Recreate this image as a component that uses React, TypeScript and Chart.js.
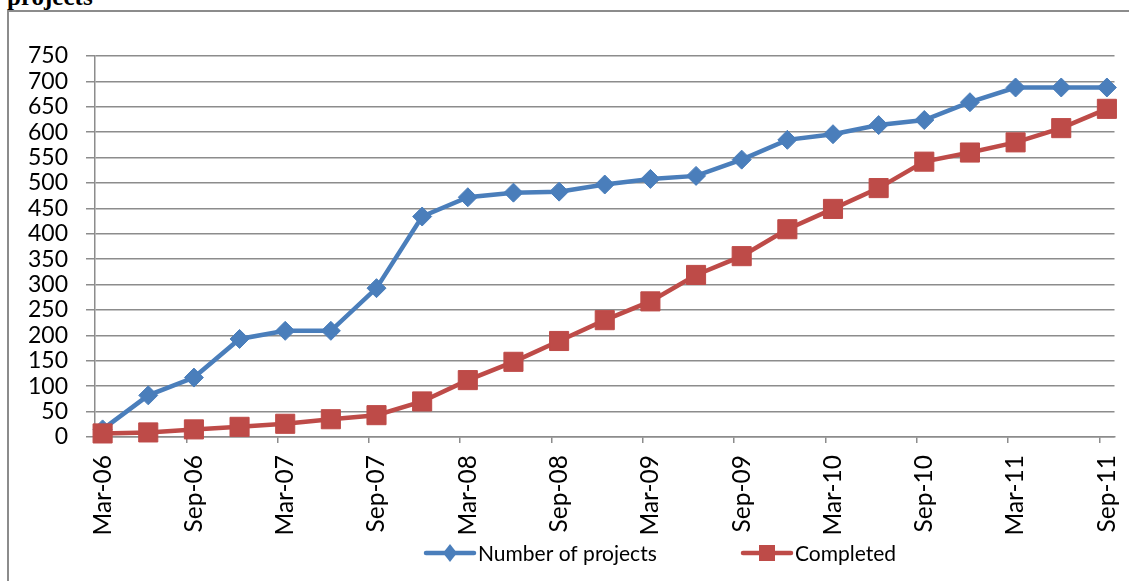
import React, { useEffect, useRef } from "react";
import { Chart, registerables } from "chart.js";

Chart.register(...registerables);

// Quarterly observations (Mar-06 .. Sep-11)
const quarters = [
  "Mar-06", "Jun-06", "Sep-06", "Dec-06",
  "Mar-07", "Jun-07", "Sep-07", "Dec-07",
  "Mar-08", "Jun-08", "Sep-08", "Dec-08",
  "Mar-09", "Jun-09", "Sep-09", "Dec-09",
  "Mar-10", "Jun-10", "Sep-10", "Dec-10",
  "Mar-11", "Jun-11", "Sep-11",
];

const numberOfProjects = [
  15, 82, 117, 193, 209, 209, 293, 434, 472, 481, 483, 497,
  508, 514, 546, 585, 596, 614, 624, 659, 688, 688, 688,
];

const completed = [
  7, 9, 15, 20, 26, 35, 43, 70, 112, 148, 189, 230,
  267, 319, 356, 409, 449, 490, 542, 560, 580, 608, 646,
];

const axisTickLabels = [
  "Mar-06", "Sep-06", "Mar-07", "Sep-07", "Mar-08", "Sep-08",
  "Mar-09", "Sep-09", "Mar-10", "Sep-10", "Mar-11", "Sep-11",
];

const seriesNames = ["Number of projects", "Completed"];

const Y_MIN = 0;
const Y_MAX = 750;
const Y_STEP = 50;

const BLUE = "#4A7EBB";
const RED = "#BE4B48";
const GRID = "#8C8C8C";
const FONT = "Lato";

const monthsPerQuarter = 3;
const totalMonths = (quarters.length - 1) * monthsPerQuarter + 1;

const toPoints = (vals: number[]) =>
  vals.map((v, i) => ({ x: i * monthsPerQuarter + 0.5, y: v }));

const legendPlugin = {
  id: "excelLegend",
  afterDraw(chart: any) {
    const ctx: CanvasRenderingContext2D = chart.ctx;
    const y = 553;
    const items = [
      { x: 426, color: BLUE, shape: "diamond", text: seriesNames[0] },
      { x: 743, color: RED, shape: "square", text: seriesNames[1] },
    ];
    ctx.save();
    for (const it of items) {
      ctx.strokeStyle = it.color;
      ctx.lineWidth = 4.5;
      ctx.lineCap = "round";
      ctx.beginPath();
      ctx.moveTo(it.x, y);
      ctx.lineTo(it.x + 48, y);
      ctx.stroke();
      const cx = it.x + 24;
      ctx.fillStyle = it.color;
      ctx.beginPath();
      if (it.shape === "diamond") {
        ctx.moveTo(cx, y - 9);
        ctx.lineTo(cx + 7, y);
        ctx.lineTo(cx, y + 9);
        ctx.lineTo(cx - 7, y);
        ctx.closePath();
      } else {
        ctx.rect(cx - 8, y - 8, 16, 16);
      }
      ctx.fill();
      ctx.fillStyle = "#000";
      ctx.font = `21px ${FONT}`;
      ctx.textBaseline = "middle";
      ctx.textAlign = "left";
      ctx.fillText(it.text, it.x + 52, y + 1);
    }
    ctx.restore();
  },
};

export default function App() {
  const canvasRef = useRef<HTMLCanvasElement | null>(null);

  useEffect(() => {
    if (!canvasRef.current) return;
    const chart = new Chart(canvasRef.current, {
      type: "line",
      data: {
        datasets: [
          {
            label: seriesNames[0],
            data: toPoints(numberOfProjects),
            borderColor: BLUE,
            backgroundColor: BLUE,
            borderWidth: 4.5,
            pointStyle: "rectRot",
            pointRadius: 9.5,
            pointBorderWidth: 1,
            pointBackgroundColor: BLUE,
            pointBorderColor: BLUE,
            tension: 0,
            clip: false as any,
            order: 1,
          },
          {
            label: seriesNames[1],
            data: toPoints(completed),
            borderColor: RED,
            backgroundColor: RED,
            borderWidth: 4.5,
            pointStyle: "rect",
            pointRadius: 13.5,
            pointBorderWidth: 1,
            pointBackgroundColor: RED,
            pointBorderColor: RED,
            tension: 0,
            clip: false as any,
            order: 0,
          },
        ],
      },
      options: {
        responsive: false,
        animation: false,
        layout: { padding: { left: 0, top: 56, right: 13, bottom: 0 } },
        plugins: {
          legend: { display: false },
          tooltip: { enabled: false },
          title: { display: false },
        },
        scales: {
          x: {
            type: "linear",
            min: 0,
            max: totalMonths,
            afterFit: (s: any) => {
              s.height = 581 - 437;
              s.paddingLeft = 0;
              s.paddingRight = 0;
            },
            afterBuildTicks: (s: any) => {
              s.ticks = axisTickLabels.map((_, i) => ({ value: i * 6 }));
            },
            ticks: {
              autoSkip: false,
              maxRotation: 90,
              minRotation: 90,
              labelOffset: 7.6,
              padding: 12,
              color: "#000",
              font: { family: FONT, size: 24.5 },
              callback: (v: any) => {
                const idx = Math.round(Number(v) / 6);
                return axisTickLabels[idx] ?? "";
              },
            },
            grid: {
              drawOnChartArea: false,
              drawTicks: true,
              tickLength: 6,
              color: GRID,
              lineWidth: 1.5,
            },
            border: { display: true, color: GRID, width: 1.5 },
          },
          y: {
            type: "linear",
            min: Y_MIN,
            max: Y_MAX,
            afterFit: (s: any) => {
              s.width = 95;
              s.paddingTop = 0;
              s.paddingBottom = 0;
            },
            ticks: {
              stepSize: Y_STEP,
              autoSkip: false,
              padding: 18,
              color: "#000",
              font: { family: FONT, size: 23 },
            },
            grid: {
              color: GRID,
              lineWidth: 1.5,
              tickLength: 9,
              drawTicks: true,
            },
            border: { display: true, color: GRID, width: 1.5 },
          },
        },
      },
      plugins: [legendPlugin],
    });
    return () => chart.destroy();
  }, []);

  return (
    <div
      style={{
        position: "fixed",
        left: 0,
        top: 0,
        width: 1129,
        height: 581,
        overflow: "hidden",
        background: "#fff",
      }}
    >
      <div
        style={{
          position: "absolute",
          left: 7,
          top: -16,
          font: 'bold 25px "Liberation Serif"',
          lineHeight: "25px",
          color: "#000",
          whiteSpace: "nowrap",
        }}
      >
        projects
      </div>
      <div
        style={{
          position: "absolute",
          left: 7,
          top: 10,
          right: 0,
          bottom: 0,
          borderLeft: "2px solid #8C8C8C",
          borderTop: "2px solid #8C8C8C",
        }}
      />
      <canvas
        ref={canvasRef}
        width={1129}
        height={581}
        style={{ position: "absolute", left: 0, top: 0, width: 1129, height: 581 }}
      />
    </div>
  );
}
